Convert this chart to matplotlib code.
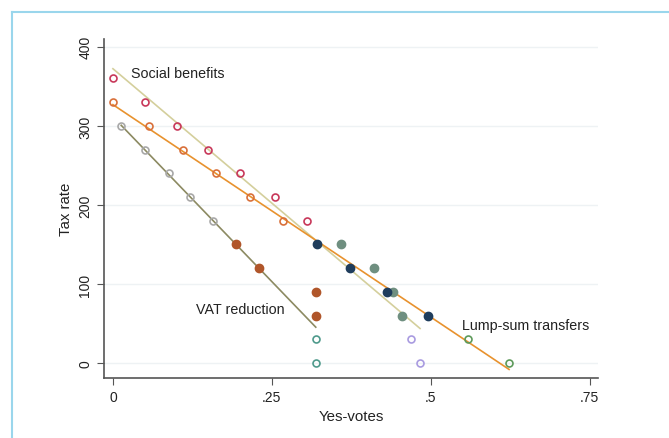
import matplotlib.pyplot as plt
import numpy as np

plt.rcParams["font.family"] = ["Liberation Sans", "DejaVu Sans"]

# Social benefits reform
sb_x = [0.0, 0.05, 0.10, 0.15, 0.20, 0.255, 0.305]
sb_y = [360, 330, 300, 270, 240, 210, 180]
sb_mid_x = [0.358, 0.41, 0.44, 0.454]
sb_mid_y = [150, 120, 90, 60]
sb_low_x = [0.469, 0.483]
sb_low_y = [30, 0]

# Lump-sum transfers
ls_x = [0.0, 0.057, 0.11, 0.162, 0.215, 0.267]
ls_y = [330, 300, 270, 240, 210, 180]
ls_mid_x = [0.321, 0.373, 0.431, 0.495]
ls_mid_y = [150, 120, 90, 60]
ls_low_x = [0.558, 0.623]
ls_low_y = [30, 0]

# VAT reduction
vat_x = [0.013, 0.05, 0.088, 0.121, 0.157]
vat_y = [300, 270, 240, 210, 180]
vat_mid_x = [0.193, 0.23, 0.319, 0.319]
vat_mid_y = [150, 120, 90, 60]
vat_low_x = [0.319, 0.319]
vat_low_y = [30, 0]


def fit_line(ax, xs, ys, color, x_end=None):
    xs = np.array(xs)
    ys = np.array(ys)
    b, a = np.polyfit(xs, ys, 1)
    hi = xs.max() if x_end is None else x_end
    xx = np.array([xs.min(), hi])
    ax.plot(xx, a + b * xx, color=color, lw=1.2, zorder=2)


def main():
    fig = plt.figure(figsize=(6.69, 4.39), dpi=100)
    ax = fig.add_axes([0.1555, 0.1367, 0.7385, 0.7723])

    # blue frame
    fig.add_artist(plt.Line2D([0.018, 0.018], [0, 0.97], color="#9ad6ec", lw=1.5))
    fig.add_artist(plt.Line2D([0.018, 1.0], [0.97, 0.97], color="#9ad6ec", lw=1.5))

    fit_line(ax, sb_x + sb_mid_x + sb_low_x, sb_y + sb_mid_y + sb_low_y, "#d4cf9c")
    fit_line(ax, ls_x + ls_mid_x + ls_low_x, ls_y + ls_mid_y + ls_low_y, "#e8922e")
    fit_line(ax, vat_x + vat_mid_x[:2], vat_y + vat_mid_y[:2], "#8c8a62", x_end=max(vat_mid_x))

    ms = 5
    ax.plot(sb_x, sb_y, "o", mfc="none", mec="#c8385a", mew=1.2, ms=ms, zorder=3)
    ax.plot(sb_mid_x, sb_mid_y, "o", color="#6f8f80", ms=ms + 1, zorder=3)
    ax.plot(sb_low_x, sb_low_y, "o", mfc="none", mec="#a99be0", mew=1.2, ms=ms, zorder=3)

    ax.plot(ls_x, ls_y, "o", mfc="none", mec="#d9703a", mew=1.2, ms=ms, zorder=3)
    ax.plot(ls_mid_x, ls_mid_y, "o", color="#1f3d5c", ms=ms + 1, zorder=3)
    ax.plot(ls_low_x, ls_low_y, "o", mfc="none", mec="#5d9a5a", mew=1.2, ms=ms, zorder=3)

    ax.plot(vat_x, vat_y, "o", mfc="none", mec="#a8a8a8", mew=1.2, ms=ms, zorder=3)
    ax.plot(vat_mid_x, vat_mid_y, "o", color="#b0562a", ms=ms + 1, zorder=3)
    ax.plot(vat_low_x, vat_low_y, "o", mfc="none", mec="#4f9a8c", mew=1.2, ms=ms, zorder=3)

    ax.text(0.028, 367, "Social benefits", fontsize=10.3, va="center", color="#222222")
    ax.text(0.13, 68, "VAT reduction", fontsize=10.3, va="center", color="#222222")
    ax.text(0.549, 48, "Lump-sum transfers", fontsize=10.3, va="center", color="#222222")

    ax.set_xlim(-0.014, 0.763)
    ax.set_ylim(-19, 410)
    ax.set_xticks([0, 0.25, 0.5, 0.75])
    ax.set_xticklabels(["0", ".25", ".5", ".75"])
    ax.set_yticks([0, 100, 200, 300, 400])
    ax.set_yticklabels(["0", "100", "200", "300", "400"], rotation=90, va="center")
    ax.tick_params(direction="out", length=5, color="#555555", labelsize=10, labelcolor="#222222")
    ax.grid(axis="y", color="#eef2f4", lw=1)
    ax.set_axisbelow(True)
    for s in ["top", "right"]:
        ax.spines[s].set_visible(False)
    for s in ["left", "bottom"]:
        ax.spines[s].set_color("#555555")
        ax.spines[s].set_linewidth(1.2)
    ax.set_xlabel("Yes-votes", fontsize=10.8, color="#222222")
    ax.set_ylabel("Tax rate", fontsize=10.8, color="#222222")

    fig.savefig("out.png", dpi=100)


main()
